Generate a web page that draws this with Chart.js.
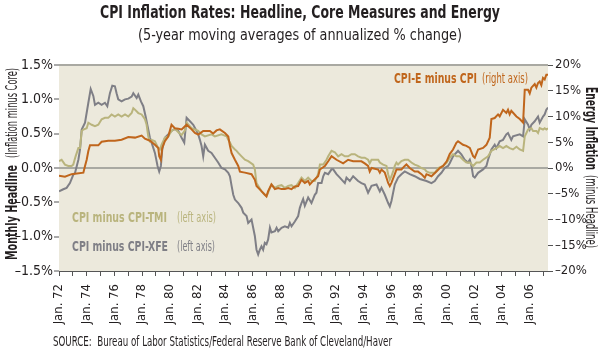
<!DOCTYPE html>
<html>
<head>
<meta charset="utf-8">
<script src="https://cdn.jsdelivr.net/npm/chart.js@4/dist/chart.umd.min.js"></script>
<style>
html,body{margin:0;padding:0;background:#fff;}
canvas{display:block;}
</style>
</head>
<body>
<canvas id="c" width="600" height="350"></canvas>
<script>
// ---- Data (decimal year, value) ----
const xfeYears = [1972.00,1972.31,1972.55,1972.79,1973.03,1973.16,1973.40,1973.52,1973.64,1973.88,1974.12,1974.29,1974.48,1974.60,1974.84,1975.08,1975.32,1975.49,1975.68,1975.85,1976.04,1976.16,1976.28,1976.52,1976.77,1977.01,1977.25,1977.37,1977.61,1977.73,1977.92,1978.09,1978.26,1978.40,1978.57,1978.69,1978.93,1979.12,1979.24,1979.36,1979.46,1979.65,1979.89,1980.13,1980.38,1980.62,1980.86,1981.05,1981.22,1981.46,1981.70,1981.94,1982.06,1982.18,1982.30,1982.42,1982.54,1982.78,1983.02,1983.26,1983.50,1983.74,1983.99,1984.23,1984.35,1984.47,1984.59,1984.71,1984.95,1985.19,1985.31,1985.55,1985.67,1985.91,1986.03,1986.15,1986.27,1986.39,1986.51,1986.63,1986.75,1986.87,1986.99,1987.11,1987.24,1987.35,1987.60,1987.72,1987.84,1988.08,1988.32,1988.56,1988.68,1988.80,1989.04,1989.28,1989.40,1989.52,1989.64,1989.76,1990.00,1990.24,1990.48,1990.60,1990.72,1990.97,1991.09,1991.21,1991.45,1991.69,1991.81,1992.05,1992.29,1992.65,1992.77,1993.01,1993.25,1993.61,1993.85,1994.09,1994.33,1994.58,1994.94,1995.18,1995.30,1995.54,1995.78,1995.90,1996.02,1996.14,1996.26,1996.50,1996.74,1996.98,1997.34,1997.70,1998.07,1998.55,1998.91,1999.15,1999.39,1999.63,1999.87,2000.11,2000.23,2000.47,2000.83,2001.07,2001.31,2001.55,2001.68,2001.80,2001.92,2002.04,2002.28,2002.64,2002.88,2003.00,2003.24,2003.48,2003.60,2003.84,2004.08,2004.32,2004.44,2004.68,2004.80,2005.29,2005.53,2005.65,2005.89,2006.01,2006.13,2006.37,2006.61,2006.73,2006.97,2007.09,2007.21,2007.33];
const xfeValues = [-0.34,-0.31,-0.29,-0.22,-0.10,-0.07,0.12,0.27,0.56,0.66,0.95,1.15,1.05,0.92,0.95,0.92,0.95,0.90,1.09,1.20,1.19,1.09,1.00,0.97,1.00,1.01,1.04,1.09,1.02,1.07,0.97,0.90,0.75,0.61,0.44,0.37,0.22,0.03,-0.05,0.03,0.27,0.44,0.49,0.54,0.57,0.54,0.44,0.37,0.73,0.68,0.63,0.54,0.49,0.41,0.32,0.17,0.34,0.25,0.22,0.15,0.08,0.00,-0.02,-0.07,-0.12,-0.26,-0.39,-0.46,-0.51,-0.58,-0.65,-0.70,-0.80,-0.75,-0.87,-0.99,-1.19,-1.26,-1.19,-1.14,-1.19,-1.09,-1.11,-1.04,-0.87,-0.94,-0.92,-0.87,-0.92,-0.87,-0.85,-0.87,-0.80,-0.85,-0.78,-0.70,-0.58,-0.51,-0.45,-0.55,-0.43,-0.51,-0.39,-0.36,-0.22,-0.22,-0.12,-0.07,-0.09,-0.02,-0.02,-0.09,-0.14,-0.22,-0.14,-0.19,-0.12,-0.19,-0.22,-0.24,-0.36,-0.26,-0.24,-0.34,-0.29,-0.39,-0.51,-0.56,-0.48,-0.36,-0.24,-0.14,-0.09,-0.05,-0.09,-0.12,-0.16,-0.19,-0.22,-0.19,-0.12,-0.07,0.00,0.03,0.07,0.17,0.25,0.20,0.12,0.08,0.12,0.03,-0.12,-0.14,-0.07,-0.02,0.03,0.12,0.27,0.34,0.29,0.39,0.41,0.49,0.51,0.41,0.46,0.49,0.46,0.71,0.63,0.56,0.63,0.68,0.75,0.66,0.75,0.78,0.85,0.88];

const tmiYears = [1972.00,1972.19,1972.43,1972.67,1972.91,1973.03,1973.20,1973.40,1973.52,1973.64,1973.76,1974.00,1974.12,1974.36,1974.60,1974.84,1975.08,1975.32,1975.56,1975.80,1976.04,1976.28,1976.52,1976.77,1977.01,1977.25,1977.37,1977.49,1977.73,1977.97,1978.21,1978.33,1978.45,1978.57,1978.69,1978.93,1979.05,1979.17,1979.29,1979.41,1979.53,1979.65,1979.89,1980.13,1980.38,1980.62,1980.86,1981.10,1981.22,1981.58,1981.82,1982.06,1982.30,1982.54,1983.02,1983.26,1983.74,1984.11,1984.23,1984.35,1984.47,1984.71,1984.83,1984.95,1985.19,1985.43,1985.67,1986.03,1986.15,1986.27,1986.39,1986.63,1986.87,1986.99,1987.11,1987.24,1987.35,1987.60,1987.84,1988.08,1988.32,1988.56,1988.80,1989.04,1989.28,1989.52,1989.76,1990.00,1990.24,1990.48,1990.60,1990.72,1990.85,1991.09,1991.33,1991.45,1991.69,1991.93,1992.17,1992.41,1992.65,1992.89,1993.13,1993.37,1993.61,1993.85,1994.09,1994.33,1994.45,1994.58,1995.06,1995.18,1995.42,1995.66,1995.78,1995.90,1996.02,1996.14,1996.26,1996.38,1996.50,1996.74,1996.98,1997.22,1997.46,1997.70,1997.94,1998.19,1998.43,1998.55,1998.79,1999.15,1999.39,1999.76,2000.01,2000.23,2000.47,2000.71,2000.95,2001.19,2001.43,2001.68,2001.92,2002.16,2002.40,2002.64,2003.00,2003.24,2003.60,2003.84,2004.08,2004.32,2004.56,2004.80,2005.05,2005.29,2005.53,2005.65,2005.77,2005.89,2006.13,2006.25,2006.49,2006.61,2006.73,2006.97,2007.09,2007.21,2007.33];
const tmiValues = [0.10,0.12,0.05,0.03,0.03,0.05,0.17,0.29,0.29,0.54,0.56,0.58,0.66,0.63,0.61,0.63,0.71,0.73,0.73,0.78,0.75,0.78,0.75,0.78,0.75,0.80,0.87,0.85,0.80,0.78,0.71,0.63,0.46,0.39,0.41,0.39,0.34,0.29,0.27,0.34,0.39,0.44,0.46,0.54,0.57,0.52,0.48,0.55,0.66,0.58,0.56,0.54,0.49,0.46,0.49,0.46,0.49,0.46,0.41,0.37,0.32,0.27,0.25,0.22,0.17,0.12,0.10,0.05,-0.02,-0.22,-0.26,-0.34,-0.39,-0.41,-0.36,-0.29,-0.24,-0.29,-0.26,-0.25,-0.29,-0.26,-0.25,-0.29,-0.22,-0.14,-0.19,-0.14,-0.19,-0.19,-0.14,-0.09,0.05,0.05,0.12,0.17,0.25,0.23,0.17,0.20,0.17,0.17,0.20,0.20,0.17,0.15,0.15,0.12,0.07,0.12,0.12,0.08,0.05,0.03,-0.09,-0.17,-0.12,-0.05,0.03,0.08,0.05,0.10,0.12,0.12,0.08,0.05,0.03,0.00,-0.02,-0.05,-0.07,-0.07,0.00,0.03,0.08,0.15,0.20,0.17,0.17,0.12,0.08,0.08,0.03,0.08,0.08,0.12,0.17,0.25,0.29,0.32,0.29,0.32,0.29,0.27,0.31,0.27,0.25,0.46,0.51,0.56,0.58,0.54,0.54,0.51,0.58,0.56,0.58,0.56,0.58];

const energyYears = [1972.00,1972.43,1972.91,1973.16,1973.76,1973.88,1974.00,1974.12,1974.24,1974.60,1974.84,1975.08,1975.56,1976.04,1976.52,1977.01,1977.49,1977.97,1978.21,1978.57,1978.93,1979.17,1979.24,1979.36,1979.46,1979.65,1979.89,1980.13,1980.38,1980.62,1980.86,1981.22,1981.58,1981.82,1982.06,1982.42,1982.90,1983.14,1983.38,1983.62,1983.99,1984.23,1984.35,1984.47,1984.71,1984.95,1985.07,1985.43,1985.91,1986.15,1986.27,1986.63,1986.87,1986.99,1987.11,1987.35,1987.60,1987.84,1988.08,1988.32,1988.56,1988.80,1989.04,1989.28,1989.52,1989.76,1990.00,1990.12,1990.36,1990.60,1990.72,1990.85,1991.21,1991.45,1991.69,1992.05,1992.53,1992.89,1993.25,1993.61,1993.85,1994.09,1994.33,1994.45,1994.58,1995.06,1995.18,1995.30,1995.54,1995.66,1995.78,1995.90,1996.02,1996.26,1996.38,1996.74,1996.98,1997.10,1997.34,1997.70,1997.94,1998.19,1998.43,1998.55,1998.91,1999.27,1999.51,1999.75,2000.01,2000.23,2000.47,2000.71,2000.83,2001.19,2001.43,2001.68,2001.92,2002.04,2002.28,2002.64,2002.88,2003.12,2003.24,2003.48,2003.72,2003.84,2004.08,2004.32,2004.44,2004.56,2004.68,2005.05,2005.29,2005.53,2005.65,2005.89,2006.01,2006.13,2006.37,2006.49,2006.61,2006.73,2006.85,2006.97,2007.09,2007.21,2007.33];
const energyValues = [-1.5,-1.7,-1.2,-1.1,-0.9,0.4,1.6,3.3,4.4,4.4,4.4,5.1,5.3,5.3,5.5,6.0,5.9,6.3,5.7,5.3,4.5,3.9,2.3,1.6,3.9,5.2,6.1,8.4,7.7,7.6,7.5,8.4,7.5,6.8,6.5,7.2,7.2,6.7,7.3,7.5,6.8,6.1,4.3,2.9,1.6,0.4,-0.7,-0.9,-1.2,-2.3,-3.5,-4.5,-5.2,-5.5,-4.5,-3.2,-4.1,-3.9,-4.1,-4.1,-3.9,-4.1,-3.6,-3.5,-2.3,-2.9,-2.5,-3.2,-2.5,-1.9,-1.6,-0.3,0.4,1.3,2.3,1.6,0.9,1.6,1.3,1.3,1.3,0.9,0.4,-0.7,0.0,-0.3,-0.9,-0.3,-0.9,-1.9,-2.9,-3.5,-2.9,-1.2,-0.3,-0.3,0.4,0.7,0.0,-0.7,-0.7,-1.2,-1.9,-1.2,-1.6,-0.7,0.0,0.4,1.3,2.7,3.6,4.9,5.2,4.5,4.3,3.9,2.3,2.0,3.6,3.9,4.5,5.9,9.5,9.7,10.4,10.0,11.3,10.7,11.3,10.4,11.1,10.0,9.5,8.8,15.2,15.2,14.5,15.6,16.3,15.6,16.5,16.8,16.1,17.5,17.2,18.1,18.1];

const xTickYears = [1972,1974,1976,1978,1980,1982,1984,1986,1988,1990,1992,1994,1996,1998,2000,2002,2004,2006];
const leftTicks = [-1.5,-1.0,-0.5,0,0.5,1.0,1.5];
const rightTicks = [-20,-15,-10,-5,0,5,10,15,20];

const pts = (xs, ys) => xs.map((x, i) => ({x: x, y: ys[i]}));

const FONT = "'Liberation Sans Narrow', 'DejaVu Sans Condensed', 'Arial Narrow', sans-serif";
const ORANGE = '#C0661C', OLIVE = '#B9B47D', GREY = '#7F7F86', TXT = '#231F20';

function fitText(ctx, text, x, y, width, font, color, rot) {
  ctx.save();
  ctx.font = font;
  ctx.fillStyle = color;
  ctx.textAlign = 'left';
  ctx.textBaseline = 'alphabetic';
  const w = ctx.measureText(text).width;
  ctx.translate(x, y);
  if (rot) ctx.rotate(rot);
  ctx.scale(width / w, 1);
  ctx.fillText(text, 0, 0);
  ctx.restore();
}

const decor = {
  id: 'decor',
  beforeDraw(chart) {
    const {ctx, chartArea: a} = chart;
    ctx.save();
    ctx.fillStyle = '#ECE9DC';
    ctx.fillRect(a.left, a.top, a.right - a.left, a.bottom - a.top);
    ctx.restore();
  },
  afterDraw(chart) {
    const ctx = chart.ctx;
    fitText(ctx, 'CPI Inflation Rates: Headline, Core Measures and Energy', 100, 18, 400, 'bold 18px ' + FONT, TXT);
    fitText(ctx, '(5-year moving averages of annualized % change)', 138, 40, 324, '16px ' + FONT, TXT);
    fitText(ctx, 'SOURCE:  Bureau of Labor Statistics/Federal Reserve Bank of Cleveland/Haver', 53, 346, 339, '14px ' + FONT, TXT);
    // left axis title
    fitText(ctx, 'Monthly Headline', 17, 260, 95, 'bold 16px ' + FONT, TXT, -Math.PI / 2);
    fitText(ctx, '(Inflation minus Core)', 17, 158, 90, '15px ' + FONT, TXT, -Math.PI / 2);
    // right axis title
    fitText(ctx, 'Energy Inflation', 586, 87, 83, 'bold 16px ' + FONT, TXT, Math.PI / 2);
    fitText(ctx, '(minus Headline)', 586, 175, 73, '15px ' + FONT, TXT, Math.PI / 2);
    // series labels
    fitText(ctx, 'CPI-E minus CPI', 394, 83, 83, 'bold 14px ' + FONT, ORANGE);
    fitText(ctx, '(right axis)', 482, 83, 46, '14px ' + FONT, ORANGE);
    fitText(ctx, 'CPI minus CPI-TMI', 72, 222, 95, 'bold 14px ' + FONT, OLIVE);
    fitText(ctx, '(left axis)', 177, 222, 39, '14px ' + FONT, OLIVE);
    fitText(ctx, 'CPI minus CPI-XFE', 72, 251, 96, 'bold 14px ' + FONT, GREY);
    fitText(ctx, '(left axis)', 177, 251, 38, '14px ' + FONT, GREY);
  }
};

Chart.defaults.font.family = FONT;
Chart.defaults.color = TXT;

const fmtLeft = v => (v < 0 ? '\u2013' : '') + Math.abs(v).toFixed(1) + '%';
const fmtRight = v => (v < 0 ? '\u2013' : '') + Math.abs(v) + '%';

new Chart(document.getElementById('c'), {
  type: 'line',
  data: {
    datasets: [
      {label: 'CPI-E minus CPI', data: pts(energyYears, energyValues), yAxisID: 'y2', borderColor: ORANGE, borderWidth: 2, pointRadius: 0, tension: 0, order: 1},
      {label: 'CPI minus CPI-TMI', data: pts(tmiYears, tmiValues), yAxisID: 'y', borderColor: OLIVE, borderWidth: 2, pointRadius: 0, tension: 0, order: 2},
      {label: 'CPI minus CPI-XFE', data: pts(xfeYears, xfeValues), yAxisID: 'y', borderColor: GREY, borderWidth: 2, pointRadius: 0, tension: 0, order: 3}
    ]
  },
  options: {
    responsive: false,
    animation: false,
    devicePixelRatio: 1,
    layout: {padding: {top: 65, left: 0, right: 0, bottom: 0}},
    plugins: {legend: {display: false}, tooltip: {enabled: false}, title: {display: false}},
    scales: {
      x: {
        type: 'linear', min: 1972, max: 2007.33,
        afterFit: s => { s.height = 79; },
        afterBuildTicks: s => { s.ticks = []; for (let y = 1972; y <= 2007; y++) s.ticks.push({value: y}); },
        ticks: {
          autoSkip: false, maxRotation: 90, minRotation: 90, padding: 8,
          font: {size: 13}, color: TXT,
          callback: v => xTickYears.includes(v) ? 'Jan. ' + String(v).slice(2) : ''
        },
        grid: {drawOnChartArea: false, drawTicks: true, tickLength: 5, tickColor: '#555', tickWidth: 1},
        border: {display: true, color: '#555', width: 1}
      },
      y: {
        position: 'left', min: -1.5, max: 1.5,
        afterFit: s => { s.width = 59; },
        afterBuildTicks: s => { s.ticks = leftTicks.map(v => ({value: v})); },
        ticks: {font: {size: 14}, color: TXT, padding: 1, callback: fmtLeft},
        grid: {
          drawOnChartArea: true, tickLength: 5,
          color: c => (c.tick && (c.tick.value === 0 || c.tick.value === 1.5)) ? '#A9A9A2' : 'rgba(0,0,0,0)',
          lineWidth: c => (c.tick && (c.tick.value === 0 || c.tick.value === 1.5)) ? 2 : 0,
          tickColor: '#555', tickWidth: 1
        },
        border: {display: false}
      },
      y2: {
        position: 'right', min: -20, max: 20,
        afterFit: s => { s.width = 52; },
        afterBuildTicks: s => { s.ticks = rightTicks.map(v => ({value: v})); },
        ticks: {font: {size: 13}, color: TXT, padding: 2, callback: fmtRight},
        grid: {drawOnChartArea: false, tickLength: 5, tickColor: '#555', tickWidth: 1},
        border: {display: false}
      }
    }
  },
  plugins: [decor]
});
</script>
</body>
</html>
